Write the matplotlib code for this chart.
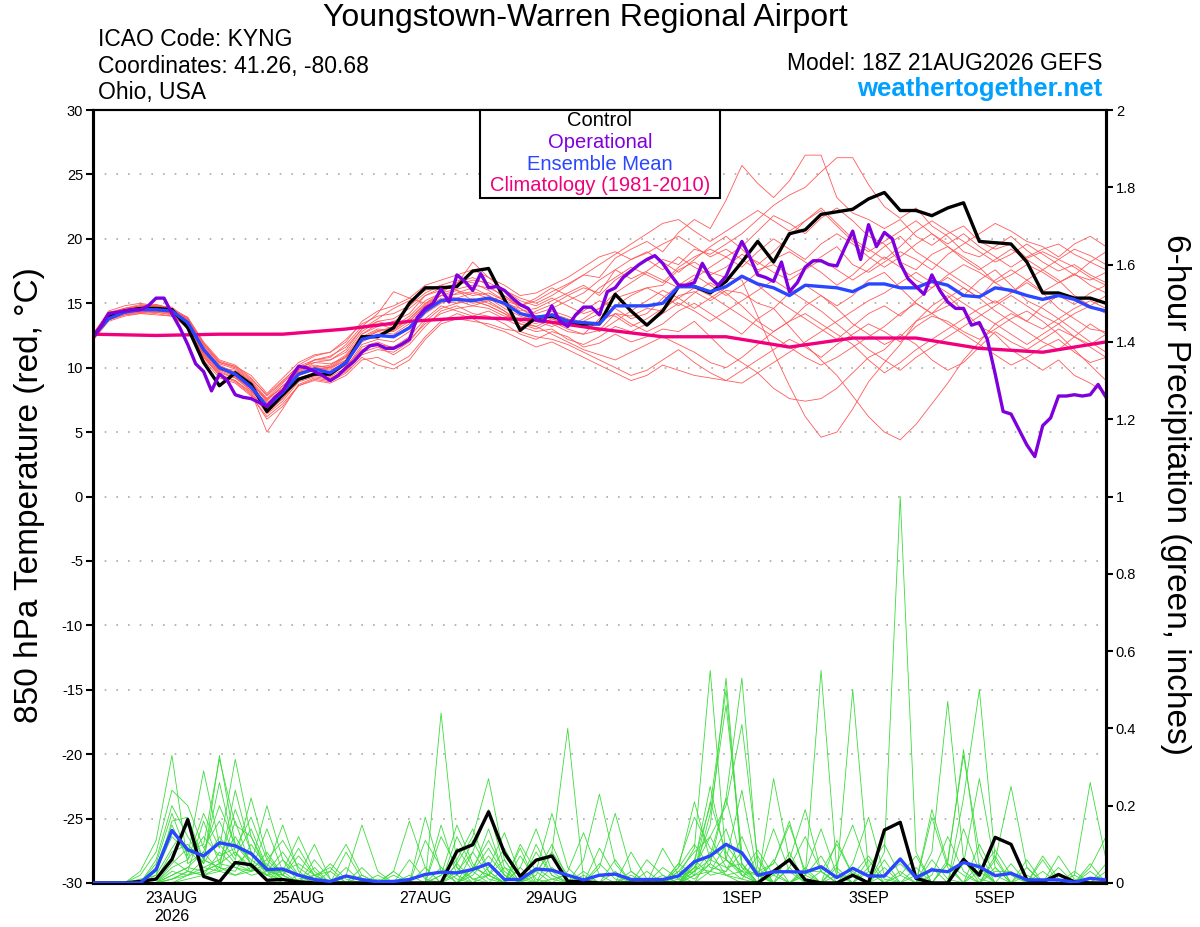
import matplotlib
matplotlib.use('Agg')
import matplotlib.pyplot as plt
import numpy as np

plt.rcParams['font.family'] = ['Liberation Sans', 'DejaVu Sans']
plt.rcParams['axes.unicode_minus'] = False

# --- data (6-hourly from 18Z 21AUG2026, operational 3-hourly, climatology daily) ---
control_temp = [12.4, 13.9, 14.4, 14.6, 14.6, 14.5, 13.1, 10.4, 8.6, 9.6,
                8.7, 6.6, 7.9, 9.1, 9.5, 9.5, 10.4, 12.4, 12.4, 13.1,
                15.0, 16.2, 16.2, 16.3, 17.5, 17.7, 15.3, 12.9, 13.9, 14.0,
                13.6, 13.4, 13.4, 15.7, 14.4, 13.3, 14.4, 16.3, 16.3, 15.8,
                16.7, 18.2, 19.8, 18.2, 20.4, 20.7, 21.9, 22.1, 22.3, 23.1,
                23.6, 22.2, 22.2, 21.8, 22.4, 22.8, 19.8, 19.7, 19.6, 18.2,
                15.8, 15.8, 15.4, 15.4, 15.0]

mean_temp = [12.4, 13.8, 14.3, 14.5, 14.5, 14.4, 13.5, 11.4, 10.0, 9.5,
             8.5, 7.0, 8.1, 9.5, 9.9, 9.6, 10.4, 12.2, 12.5, 12.4,
             13.1, 14.4, 15.2, 15.3, 15.2, 15.4, 15.0, 14.2, 13.9, 14.1,
             13.6, 13.5, 13.4, 14.8, 14.8, 14.8, 15.0, 16.3, 16.3, 15.9,
             16.3, 17.1, 16.5, 16.2, 15.6, 16.4, 16.3, 16.2, 15.9, 16.5,
             16.5, 16.2, 16.2, 16.7, 16.4, 15.6, 15.5, 16.2, 16.0, 15.6,
             15.3, 15.6, 15.3, 14.7, 14.4]

oper_temp = [12.3, 13.2, 14.2, 14.3, 14.4, 14.5, 14.5, 14.8, 15.4, 15.4,
             14.2, 13.1, 11.8, 10.3, 9.7, 8.2, 9.5, 9.0, 7.9, 7.7,
             7.6, 7.3, 7.0, 7.7, 8.2, 9.2, 10.1, 10.0, 9.7, 9.4,
             9.0, 9.4, 10.0, 10.5, 11.2, 11.7, 11.8, 11.5, 11.5, 11.8,
             12.2, 13.9, 14.6, 15.0, 16.1, 15.1, 17.2, 16.7, 16.0, 17.3,
             16.2, 16.3, 16.0, 15.4, 14.9, 14.6, 13.7, 13.6, 14.8, 13.6,
             13.2, 14.1, 14.7, 14.7, 14.1, 15.9, 16.2, 17.0, 17.5, 18.0,
             18.4, 18.7, 18.1, 17.2, 16.4, 16.4, 16.6, 18.1, 17.0, 16.4,
             17.1, 18.5, 19.8, 18.6, 17.2, 17.0, 16.7, 18.2, 15.9, 16.6,
             17.8, 18.3, 18.3, 18.0, 17.9, 19.3, 20.6, 18.4, 21.1, 19.4,
             20.5, 20.0, 18.1, 16.9, 16.3, 15.7, 17.2, 16.0, 15.1, 14.6,
             14.6, 13.3, 13.5, 12.2, 9.5, 6.6, 6.4, 5.2, 4.0, 3.1,
             5.5, 6.1, 7.8, 7.8, 7.9, 7.8, 7.9, 8.7, 7.7]

clim_temp = [12.6, 12.5, 12.6, 12.6, 13.0, 13.6, 13.9, 13.7, 13.0,
             12.4, 12.4, 11.6, 12.3, 12.3, 11.5, 11.2, 12.0]

control_precip = [0, 0, 0, .004, .01, .061, .164, .017, .003, .053,
                  .047, .007, .009, .003, 0, 0, 0, 0, 0, 0,
                  0, 0, 0, .082, .099, .184, .078, .017, .059, .07,
                  .004, .003, 0, 0, 0, 0, 0, 0, 0, 0,
                  0, 0, 0, .03, .06, .008, 0, 0, .02, 0,
                  .137, .157, .012, 0, 0, .061, .02, .118, .1, .008,
                  .003, .022, .003, 0, 0]

mean_precip = [0, 0, 0, 0, .035, .136, .086, .07, .104, .096,
               .076, .035, .036, .02, .009, .004, .018, .009, .003, .004,
               .009, .022, .028, .026, .035, .05, .009, .009, .036, .033,
               .02, .008, .02, .023, .009, .009, .009, .018, .055, .07,
               .10, .078, .02, .029, .029, .028, .042, .014, .038, .018,
               .018, .062, .014, .034, .029, .053, .042, .019, .025, .008,
               .008, .008, .002, .012, .008]

# ensemble members, 850 hPa temperature
t_m01 = [12.3, 14.2, 14.6, 14.8, 14.9, 14.6, 13.2, 11.0, 9.6, 9.2, 8.4, 6.8, 8.0,
         9.8, 10.6, 10.9, 11.6, 13.0, 13.6, 13.2, 14.0, 15.2, 15.8, 16.1, 16.4, 16.2,
         15.6, 14.8, 15.2, 15.9, 16.5, 17.2, 17.0, 18.5, 19.2, 19.8, 19.0, 20.5, 21.5,
         20.8, 23.0, 25.7, 24.3, 23.2, 24.5, 26.5, 26.5, 23.2, 22.0, 21.5, 20.8, 21.5,
         20.2, 19.5, 20.4, 21.0, 19.8, 19.2, 19.6, 18.5, 19.0, 18.4, 19.2, 18.7, 18.0]
t_m02 = [12.5, 14.0, 14.4, 14.5, 14.6, 14.5, 13.8, 11.8, 10.3, 9.9, 8.9, 7.4, 8.6,
         9.4, 10.0, 10.2, 11.0, 12.6, 13.4, 13.0, 13.8, 14.9, 15.6, 16.0, 15.2, 14.8,
         14.2, 13.6, 14.4, 14.9, 15.6, 16.2, 15.8, 17.6, 16.9, 17.5, 18.4, 18.0, 19.2,
         18.8, 19.6, 20.4, 21.5, 22.6, 23.4, 24.0, 25.2, 26.3, 26.3, 24.2, 22.5, 21.6,
         22.4, 21.0, 20.2, 19.0, 18.6, 19.4, 20.2, 19.1, 18.2, 17.5, 18.0, 17.2, 16.6]
t_m03 = [12.2, 13.9, 14.3, 14.4, 14.3, 14.2, 13.4, 11.2, 9.8, 9.7, 8.6, 7.2, 8.4,
         9.6, 10.4, 10.3, 10.8, 12.3, 12.9, 12.8, 13.6, 14.8, 15.6, 15.7, 15.9, 15.6,
         15.0, 14.6, 14.0, 13.8, 13.2, 13.8, 14.6, 15.4, 15.8, 16.2, 16.4, 17.6, 18.2,
         17.4, 17.0, 16.8, 14.0, 11.2, 8.6, 6.2, 4.6, 5.0, 6.8, 8.9, 10.4, 11.8,
         13.6, 14.2, 15.4, 16.2, 15.4, 16.8, 17.6, 16.8, 15.9, 16.6, 17.3, 16.4, 15.8]
t_m04 = [12.6, 14.3, 14.5, 14.6, 14.4, 14.3, 13.6, 11.5, 10.1, 9.3, 8.2, 6.9, 7.8,
         9.2, 9.6, 9.3, 10.0, 11.8, 12.2, 12.0, 12.8, 14.2, 15.0, 15.4, 15.0, 15.2,
         14.4, 13.4, 13.0, 13.6, 13.0, 12.6, 12.9, 14.2, 14.0, 14.6, 14.4, 15.6, 15.9,
         15.2, 16.0, 15.8, 15.0, 14.6, 13.2, 11.8, 10.6, 9.4, 7.8, 6.2, 5.0, 4.4,
         5.6, 7.2, 8.8, 10.6, 12.0, 13.4, 14.2, 13.6, 14.8, 15.6, 14.9, 15.8, 16.4]
t_m05 = [12.4, 13.7, 14.1, 14.3, 14.2, 14.0, 13.2, 10.8, 9.4, 9.0, 8.0, 6.5, 7.6,
         9.0, 9.4, 9.2, 9.8, 11.2, 11.6, 11.0, 11.8, 13.2, 14.4, 14.8, 14.2, 14.0,
         13.4, 12.6, 12.2, 12.8, 12.4, 11.6, 11.9, 12.6, 12.0, 12.4, 13.0, 12.8, 13.6,
         12.4, 11.2, 10.4, 9.6, 8.4, 7.6, 7.4, 7.6, 8.4, 9.6, 10.8, 11.4, 12.6,
         11.8, 10.6, 9.8, 10.4, 11.6, 12.8, 12.0, 11.4, 12.2, 13.0, 12.4, 11.8, 12.6]
t_m06 = [12.3, 14.1, 14.5, 14.6, 14.7, 14.5, 13.0, 10.6, 9.2, 8.8, 7.8, 6.2, 7.2,
         8.6, 9.0, 8.8, 9.4, 10.6, 10.8, 10.2, 10.9, 12.4, 13.6, 14.2, 13.8, 13.2,
         12.8, 12.2, 11.6, 12.0, 11.4, 10.8, 10.2, 9.6, 9.0, 9.4, 10.2, 9.8, 9.4,
         9.2, 9.0, 9.8, 10.6, 11.4, 12.2, 11.6, 10.8, 11.8, 12.6, 13.4, 12.8, 12.0,
         13.2, 14.0, 13.6, 12.8, 12.2, 13.0, 13.8, 14.4, 13.6, 12.6, 11.4, 10.2, 9.0]
t_m07 = [12.5, 14.4, 14.8, 15.0, 14.8, 14.6, 13.9, 12.0, 10.6, 10.2, 9.2, 7.8, 8.9,
         10.2, 10.9, 11.2, 12.0, 13.6, 14.4, 14.8, 15.4, 16.4, 16.8, 17.2, 17.6, 17.0,
         16.4, 15.6, 15.8, 16.4, 17.0, 17.8, 18.6, 19.0, 18.4, 18.9, 19.6, 20.2, 19.4,
         18.6, 19.2, 18.4, 17.6, 18.0, 17.2, 17.8, 18.6, 19.4, 18.0, 17.4, 18.2, 19.0,
         18.4, 17.6, 18.8, 19.6, 20.4, 21.2, 20.6, 19.8, 19.4, 18.6, 19.6, 20.2, 19.4]
t_m08 = [12.1, 13.6, 14.0, 14.2, 14.3, 14.1, 13.1, 10.9, 9.5, 9.0, 8.1, 5.0, 6.8,
         8.7, 9.2, 9.0, 9.9, 11.6, 12.0, 11.5, 12.2, 13.4, 14.2, 14.6, 14.8, 14.6,
         14.0, 13.8, 13.4, 14.2, 13.8, 13.2, 13.6, 14.2, 13.4, 12.8, 13.4, 14.4, 15.0,
         14.2, 13.4, 12.6, 13.8, 14.6, 15.8, 16.4, 15.6, 14.8, 15.6, 16.8, 17.4, 16.2,
         15.0, 14.2, 14.8, 15.6, 16.8, 17.6, 16.4, 15.2, 14.6, 13.8, 12.9, 12.0, 11.2]
t_m09 = [12.6, 14.0, 14.2, 14.4, 14.5, 14.4, 13.5, 11.6, 10.2, 9.6, 8.8, 7.6, 8.4,
         9.8, 10.2, 10.0, 10.6, 12.6, 13.2, 13.6, 14.2, 15.6, 16.2, 16.5, 18.2, 17.0,
         16.0, 15.2, 14.8, 15.4, 14.8, 14.2, 14.6, 15.8, 16.6, 17.4, 16.8, 16.2, 16.9,
         17.8, 18.6, 19.4, 20.6, 21.8, 21.2, 20.4, 21.6, 22.4, 21.4, 20.2, 19.6, 18.2,
         17.6, 18.8, 19.4, 18.6, 17.8, 16.6, 15.8, 16.8, 17.6, 16.8, 15.6, 14.8, 15.6]
t_m10 = [12.2, 13.8, 14.2, 14.3, 14.4, 14.2, 13.3, 11.2, 9.9, 9.5, 8.6, 7.0, 8.2,
         9.6, 10.0, 9.8, 10.4, 12.0, 12.6, 12.4, 13.2, 14.6, 15.4, 15.2, 14.8, 15.2,
         15.6, 14.6, 13.8, 13.4, 12.8, 12.6, 13.8, 14.8, 15.6, 16.2, 15.6, 14.8, 15.8,
         16.6, 15.8, 14.8, 13.6, 12.8, 13.6, 14.8, 15.6, 14.6, 13.4, 12.6, 11.8, 12.4,
         13.6, 14.8, 15.6, 14.4, 13.2, 12.6, 11.4, 10.6, 9.8, 10.6, 9.4, 8.8, 8.0]
t_m11 = [12.4, 14.2, 14.6, 14.7, 14.6, 14.4, 13.7, 11.7, 10.4, 10.0, 9.0, 7.6, 8.8,
         10.0, 10.4, 10.6, 11.4, 13.0, 13.8, 14.6, 15.2, 16.0, 16.4, 16.0, 15.6, 15.8,
         15.2, 14.4, 14.6, 15.2, 15.8, 16.4, 15.6, 16.8, 17.6, 18.4, 17.6, 18.6, 17.8,
         17.2, 17.8, 18.8, 18.2, 17.4, 16.8, 17.6, 18.4, 17.6, 16.8, 17.6, 18.6, 17.8,
         16.8, 16.2, 17.2, 18.0, 17.4, 16.6, 17.2, 18.0, 17.4, 16.6, 17.2, 16.8, 17.4]
t_m12 = [12.3, 13.9, 14.4, 14.6, 14.5, 14.3, 13.4, 11.3, 10.0, 9.8, 8.9, 7.3, 8.0,
         9.4, 9.8, 10.1, 10.9, 12.4, 13.0, 12.9, 13.8, 15.0, 15.6, 15.4, 15.8, 15.4,
         14.6, 14.0, 13.6, 13.2, 13.6, 14.4, 15.2, 14.6, 13.8, 14.2, 15.4, 16.4, 17.2,
         16.4, 15.6, 16.4, 17.4, 18.4, 19.0, 18.2, 17.4, 16.4, 17.2, 18.4, 19.4, 20.2,
         19.0, 18.2, 17.4, 16.6, 15.8, 15.0, 15.8, 16.6, 15.8, 14.6, 13.8, 13.0, 12.8]
t_m13 = [12.5, 14.1, 14.3, 14.5, 14.6, 14.4, 13.6, 11.4, 10.0, 9.4, 8.3, 7.1, 8.3,
         9.9, 10.6, 10.8, 11.8, 13.2, 14.2, 15.9, 15.4, 15.0, 15.8, 16.6, 17.0, 16.4,
         15.4, 14.8, 14.2, 14.6, 15.2, 15.8, 16.8, 17.6, 18.4, 19.0, 18.2, 17.4, 18.4,
         19.4, 20.2, 19.2, 18.0, 19.0, 20.2, 21.4, 22.4, 21.2, 20.0, 19.2, 18.4, 19.4,
         20.6, 21.4, 20.6, 19.8, 19.0, 18.2, 18.8, 19.6, 18.8, 18.0, 17.2, 18.2, 19.0]
t_m14 = [12.2, 14.0, 14.4, 14.4, 14.4, 14.3, 13.5, 11.1, 9.8, 9.3, 8.5, 6.8, 7.9,
         9.1, 9.5, 9.4, 10.2, 11.4, 11.8, 11.6, 12.4, 13.8, 14.8, 14.4, 14.0, 14.4,
         13.8, 13.2, 12.8, 13.0, 12.2, 11.8, 12.4, 13.2, 12.8, 13.4, 14.2, 15.0, 14.4,
         13.6, 14.4, 15.2, 16.0, 16.8, 16.0, 15.2, 14.4, 13.4, 12.4, 11.4, 10.6, 9.8,
         10.8, 11.6, 12.4, 13.2, 14.0, 14.8, 15.6, 14.8, 14.0, 13.4, 14.2, 14.8, 14.2]
t_m15 = [12.6, 14.3, 14.6, 14.8, 14.7, 14.6, 13.8, 11.9, 10.4, 10.1, 9.4, 8.0, 9.2,
         10.4, 11.0, 11.2, 12.2, 13.4, 14.0, 14.2, 14.8, 15.8, 16.4, 16.8, 16.6, 16.0,
         15.2, 14.8, 15.4, 16.2, 15.6, 15.0, 16.2, 17.0, 17.8, 17.2, 16.6, 17.8, 18.6,
         19.2, 18.6, 17.8, 19.0, 20.0, 19.2, 18.4, 19.6, 20.4, 19.6, 18.6, 17.8, 18.6,
         19.6, 20.4, 19.4, 18.4, 17.6, 18.4, 19.2, 18.4, 17.6, 18.4, 17.8, 17.0, 16.4]
t_m16 = [12.4, 13.8, 14.3, 14.6, 14.8, 14.7, 13.7, 11.6, 10.1, 9.6, 8.7, 7.5, 8.6,
         9.7, 10.1, 10.0, 10.8, 12.2, 12.8, 13.2, 13.6, 14.8, 15.2, 15.8, 16.2, 15.6,
         14.8, 14.2, 13.6, 14.4, 14.0, 13.4, 12.8, 13.6, 14.4, 15.2, 16.0, 15.4, 14.6,
         15.4, 16.2, 17.0, 16.4, 15.4, 14.6, 13.8, 13.0, 12.2, 13.2, 14.2, 14.8, 14.0,
         15.2, 16.2, 17.0, 16.2, 15.4, 14.4, 13.6, 12.8, 12.0, 11.4, 12.4, 13.4, 12.6]
t_m17 = [12.3, 14.0, 14.5, 14.7, 14.9, 14.6, 13.6, 11.4, 9.9, 9.4, 8.4, 6.6, 7.6,
         9.4, 10.0, 9.9, 10.6, 12.2, 12.8, 12.6, 13.4, 14.6, 15.2, 15.0, 15.4, 15.0,
         14.4, 13.6, 13.2, 13.8, 13.4, 13.6, 14.2, 14.0, 13.2, 13.8, 14.6, 15.4, 16.2,
         15.6, 14.8, 14.0, 13.2, 12.4, 11.6, 10.8, 10.2, 10.8, 11.6, 12.4, 13.2, 14.2,
         15.0, 14.2, 13.4, 12.6, 11.8, 11.0, 10.2, 10.8, 11.6, 12.2, 11.2, 10.4, 10.8]
t_m18 = [12.5, 14.2, 14.5, 14.5, 14.4, 14.3, 13.2, 11.0, 9.7, 9.2, 8.2, 6.4, 7.4,
         8.9, 9.3, 9.1, 9.7, 11.0, 11.4, 11.2, 12.0, 13.6, 14.6, 15.0, 15.2, 14.8,
         14.2, 13.4, 13.2, 12.6, 12.0, 11.4, 11.0, 10.6, 11.2, 11.8, 12.4, 11.8, 11.2,
         10.4, 10.0, 10.8, 11.8, 12.8, 13.6, 14.2, 13.4, 12.6, 11.8, 10.6, 9.6, 10.4,
         11.4, 12.2, 13.0, 13.8, 14.6, 15.2, 14.4, 13.6, 13.0, 13.8, 14.6, 15.2, 14.6]
t_m19 = [12.4, 14.1, 14.6, 14.9, 14.8, 14.5, 13.9, 11.9, 10.5, 10.1, 9.1, 7.9, 9.0,
         10.1, 10.6, 10.6, 11.2, 12.8, 13.6, 13.8, 14.6, 15.6, 16.0, 16.4, 16.8, 16.6,
         16.0, 15.4, 15.0, 15.6, 16.4, 17.2, 18.0, 18.8, 19.6, 20.4, 21.2, 21.5, 20.6,
         19.8, 20.6, 21.4, 22.2, 21.4, 20.6, 21.4, 22.2, 21.0, 19.8, 19.0, 19.8, 20.6,
         21.4, 20.4, 19.6, 20.4, 19.4, 18.6, 17.8, 18.6, 19.2, 19.6, 18.8, 18.2, 17.6]
t_m20 = [12.2, 13.7, 14.1, 14.2, 14.1, 14.0, 13.1, 10.8, 9.4, 8.9, 7.9, 6.0, 7.0,
         8.6, 9.1, 8.9, 9.6, 10.8, 10.2, 9.9, 10.6, 12.2, 13.4, 13.8, 13.6, 13.4,
         13.0, 12.8, 12.4, 12.2, 11.8, 11.2, 10.6, 10.0, 9.4, 9.8, 10.6, 11.4, 10.4,
         9.6, 9.0, 8.8, 9.6, 10.4, 11.2, 12.0, 12.8, 13.6, 14.4, 15.2, 15.8, 16.6,
         17.4, 16.6, 15.8, 15.0, 14.2, 13.4, 12.6, 11.8, 12.6, 13.4, 12.4, 11.6, 10.8]

# ensemble members, 6-hour precipitation (inches)
p_m01 = [0, 0, 0, .03, .11, .33, .05, .08, .03, .16, .04, .02, .06,
         0, 0, 0, 0, 0, 0, 0, .06, .01, 0, 0, .04, .02,
         0, 0, .08, .02, 0, 0, 0, 0, .08, .01, 0, 0, .06,
         .02, .03, .12, .02, 0, 0, .02, .55, .03, 0, 0, 0, 0,
         0, .06, .01, 0, 0, 0, 0, .04, 0, 0, 0, 0, 0]
p_m02 = [0, 0, 0, .02, .08, .24, .20, .09, .16, .07, .14, .04, .01,
         0, 0, .03, 0, 0, 0, 0, 0, 0, .04, .01, 0, 0,
         0, .04, 0, 0, 0, 0, 0, 0, 0, .03, 0, .02, .09,
         .55, .06, .02, 0, .06, 0, 0, 0, 0, .03, 0, 0, 0,
         0, 0, .05, .345, .04, 0, 0, 0, .03, 0, 0, 0, 0]
p_m03 = [0, 0, 0, 0, .06, .20, .12, .05, .33, .10, .06, .03, .02,
         .09, .02, 0, 0, 0, 0, 0, 0, .17, .03, 0, 0, .02,
         .09, .01, 0, 0, 0, 0, .05, .01, 0, 0, 0, 0, .03,
         .08, .02, .01, .07, 0, 0, 0, 0, .04, 0, 0, 0, 0,
         0, .08, .47, .06, 0, 0, 0, 0, 0, .04, 0, 0, 0]
p_m04 = [0, 0, 0, 0, .05, .18, .07, .29, .10, .05, .03, .14, .03,
         0, 0, 0, .08, .01, 0, 0, 0, 0, 0, .02, .11, .03,
         0, 0, .02, .10, .01, 0, 0, 0, 0, 0, .02, 0, .04,
         .15, .53, .05, 0, 0, .08, 0, 0, 0, 0, 0, .06, 0,
         0, 0, 0, 0, .10, .02, 0, 0, 0, 0, 0, .05, 0]
p_m05 = [0, 0, 0, .01, .02, .16, .17, .06, .26, .08, .03, .05, .01,
         0, 0, 0, 0, 0, .02, 0, 0, 0, 0, 0, .03, .14,
         .02, 0, 0, .01, .02, 0, 0, 0, 0, 0, 0, .02, .03,
         .06, .14, .02, 0, 0, 0, .04, 0, 0, 0, 0, .08, 1.0,
         .08, 0, 0, 0, 0, .07, 0, 0, 0, 0, 0, 0, .03]
p_m06 = [0, 0, 0, 0, .04, .15, .06, .18, .09, .32, .12, .04, .15,
         .03, 0, 0, 0, 0, 0, 0, 0, 0, .15, .02, 0, 0,
         .04, 0, 0, 0, 0, .02, 0, 0, 0, 0, 0, .05, .17,
         .09, .06, .24, .02, 0, 0, 0, .03, 0, 0, 0, 0, 0,
         .04, 0, 0, 0, 0, 0, .05, 0, 0, 0, 0, 0, 0]
p_m07 = [0, 0, 0, 0, .03, .12, .08, .10, .32, .15, .12, .03, 0,
         .02, .10, .01, 0, 0, 0, 0, 0, 0, .02, .15, .05, .01,
         0, .09, 0, 0, 0, 0, 0, .06, 0, 0, 0, 0, .04,
         .12, .04, .01, 0, .27, .06, 0, 0, 0, 0, .06, 0, 0,
         0, 0, .05, 0, 0, 0, 0, 0, .06, 0, 0, 0, 0]
p_m08 = [0, 0, 0, 0, .02, .09, .15, .06, .04, .24, .08, .02, 0,
         0, .01, .05, .01, 0, 0, 0, 0, 0, 0, .09, .03, 0,
         0, 0, .10, .02, 0, 0, 0, 0, .02, 0, 0, 0, .06,
         .20, .50, .04, .02, .05, .16, .02, 0, 0, 0, .03, 0, 0,
         0, 0, 0, .14, .03, 0, 0, 0, 0, 0, .02, 0, 0]
p_m09 = [0, 0, 0, 0, .01, .08, .10, .05, .12, .06, .22, .07, .02,
         0, 0, 0, 0, .04, 0, 0, 0, 0, 0, 0, .08, .02,
         0, 0, .03, .18, .04, 0, 0, 0, 0, 0, .09, .02, 0,
         .07, .22, .05, 0, 0, .04, 0, 0, 0, 0, 0, .04, 0,
         0, 0, 0, .22, .50, .06, 0, 0, 0, 0, 0, .03, 0]
p_m10 = [0, 0, 0, 0, .01, .06, .03, .16, .05, .19, .08, .03, .08,
         .02, 0, 0, 0, 0, 0, .03, 0, 0, 0, .05, .12, .27,
         .06, 0, 0, .04, .01, 0, 0, 0, 0, 0, 0, .05, .02,
         .03, .06, .03, 0, 0, .04, .12, .03, 0, 0, 0, 0, .03,
         0, 0, 0, 0, .03, .085, .02, 0, 0, 0, 0, .04, .12]
p_m11 = [0, 0, 0, 0, 0, .05, .09, .04, .06, .12, .05, .02, .03,
         .12, .03, 0, 0, 0, 0, 0, .02, 0, 0, 0, .04, .11,
         .03, 0, 0, .08, .40, .01, 0, 0, 0, 0, 0, .03, .08,
         .12, .20, .41, .06, 0, 0, .02, .07, 0, 0, 0, 0, 0,
         .02, 0, 0, 0, 0, .06, .25, .04, 0, 0, 0, 0, 0]
p_m12 = [0, 0, 0, 0, 0, .04, .06, .12, .07, .09, .17, .06, .02,
         0, .06, .01, 0, 0, 0, 0, 0, .11, .04, 0, .02, .07,
         .02, 0, 0, 0, 0, .03, 0, 0, 0, 0, 0, .04, .21,
         .06, .04, .05, 0, 0, 0, .03, .03, .10, .02, 0, 0, 0,
         0, .17, .04, 0, 0, 0, 0, .06, 0, 0, 0, 0, 0]
p_m13 = [0, 0, 0, 0, 0, .03, .02, .06, .04, .03, .10, .04, 0,
         .01, .02, .04, 0, 0, 0, 0, 0, 0, .12, .04, .01, .02,
         .06, 0, 0, 0, 0, .06, .23, .05, 0, 0, 0, .01, .04,
         .03, .02, .03, .085, .02, 0, 0, 0, .05, .15, .03, 0, 0,
         0, .04, 0, 0, 0, 0, 0, 0, .07, .01, 0, 0, 0]
p_m14 = [0, 0, 0, 0, 0, .02, .04, .08, .20, .10, .05, .20, .06,
         .02, 0, 0, .04, 0, 0, 0, 0, 0, 0, .12, .04, .02,
         0, .10, .03, 0, 0, 0, 0, .03, 0, 0, 0, 0, .05,
         .25, .06, .03, .02, .14, .03, 0, 0, 0, .05, .17, .02, 0,
         0, 0, .06, .33, .08, 0, 0, 0, 0, .07, .01, 0, 0]
p_m15 = [0, 0, 0, 0, 0, .01, .03, .02, .08, .04, .03, .08, .02,
         0, 0, 0, .02, .15, .03, 0, 0, 0, 0, .05, .01, 0,
         0, .04, .14, .03, 0, 0, 0, 0, .03, 0, 0, 0, .02,
         .05, .02, 0, 0, .03, 0, 0, 0, 0, .02, .07, .01, 0,
         0, 0, 0, .06, .01, 0, 0, 0, 0, .02, 0, 0, 0]
p_m16 = [0, 0, 0, 0, 0, .02, .04, .03, .05, .08, .04, .06, .11,
         .04, .01, 0, 0, 0, .01, 0, 0, 0, .02, .06, .14, .03,
         0, 0, .04, .01, 0, 0, 0, 0, 0, .06, .02, 0, .02,
         .18, .46, .08, .03, .05, .15, .03, 0, 0, 0, .04, .10, .02,
         0, 0, 0, .05, .27, .04, 0, 0, 0, 0, .03, 0, 0]
p_m17 = [0, 0, 0, 0, 0, .01, .02, .04, .03, .05, .08, .03, .02,
         .07, .02, 0, 0, 0, 0, .02, 0, 0, 0, .03, .08, .19,
         .04, .02, .03, .08, .02, 0, 0, 0, 0, 0, .04, .01, 0,
         .03, .10, .04, 0, .02, .06, .19, .03, 0, 0, 0, .02, .05,
         .01, 0, 0, 0, .05, 0, 0, 0, 0, 0, .02, .26, .06]
p_m18 = [0, 0, 0, 0, 0, .01, .03, .02, .04, .02, .03, .04, .01,
         0, .04, 0, 0, 0, 0, .03, .16, .04, 0, 0, .03, .09,
         .02, 0, 0, 0, .03, .13, .02, 0, 0, 0, 0, .03, .01,
         .05, .22, .53, .04, 0, 0, .03, .14, .02, 0, 0, 0, .02,
         .07, 0, 0, 0, 0, .04, 0, 0, 0, 0, 0, 0, .05]
p_m19 = [0, 0, 0, 0, 0, 0, .02, .03, .05, .04, .02, .03, .03,
         .05, .02, .03, .10, .02, 0, 0, 0, .04, 0, 0, 0, .04,
         .13, .02, 0, 0, 0, 0, .09, .02, 0, 0, 0, .04, .10,
         .04, .03, .08, .02, 0, 0, 0, 0, .11, .02, 0, 0, 0,
         0, .19, .05, .02, 0, .03, .03, 0, 0, 0, 0, 0, 0]
p_m20 = [0, 0, 0, 0, 0, 0, .01, .02, .03, .02, .04, .02, .01,
         0, .02, 0, 0, .02, 0, 0, 0, 0, .44, .04, 0, 0,
         0, .07, .01, 0, 0, 0, .04, .18, .03, 0, 0, 0, .03,
         .21, .08, .02, .03, 0, 0, 0, 0, .02, .50, .03, 0, 0,
         0, .02, .12, .03, 0, 0, 0, .02, 0, 0, 0, 0, 0]

tick_hours = [30, 78, 126, 174, 246, 294, 342]
tick_labels = ['23AUG\n2026', '25AUG', '27AUG', '29AUG', '1SEP', '3SEP', '5SEP']
temp_ticks = [-30, -25, -20, -15, -10, -5, 0, 5, 10, 15, 20, 25, 30]
precip_ticks = [0, 0.2, 0.4, 0.6, 0.8, 1, 1.2, 1.4, 1.6, 1.8, 2]
precip_labels = ['0', '0.2', '0.4', '0.6', '0.8', '1', '1.2', '1.4', '1.6', '1.8', '2']

temp_members = [t_m01, t_m02, t_m03, t_m04, t_m05, t_m06, t_m07, t_m08, t_m09, t_m10,
                t_m11, t_m12, t_m13, t_m14, t_m15, t_m16, t_m17, t_m18, t_m19, t_m20]
precip_members = [p_m01, p_m02, p_m03, p_m04, p_m05, p_m06, p_m07, p_m08, p_m09, p_m10,
                  p_m11, p_m12, p_m13, p_m14, p_m15, p_m16, p_m17, p_m18, p_m19, p_m20]

# forecast hours
h6 = np.arange(0, 385, 6)
h3 = np.arange(0, 385, 3)
h24 = np.arange(0, 385, 24)

RED = '#ff5a5a'
GREEN = '#3ddc3d'
PURPLE = '#7f00dc'
BLUE = '#2a46ff'
PINK = '#f0007c'

fig = plt.figure(figsize=(12, 9.27), dpi=100)
ax = fig.add_axes([0.0773, 0.0475, 0.8444, 0.8338])
ax2 = ax.twinx()

# temperature
for m in temp_members:
    ax.plot(h6, m, color=RED, lw=0.6, zorder=2)
ax.plot(h24, clim_temp, color=PINK, lw=2.4, zorder=3)
ax.plot(h6, control_temp, color='black', lw=2.4, zorder=4)
ax.plot(h6, mean_temp, color=BLUE, lw=2.4, zorder=5)
ax.plot(h3, oper_temp, color=PURPLE, lw=2.4, zorder=6)

# precipitation
for m in precip_members:
    ax2.plot(h6, m, color=GREEN, lw=0.6, zorder=2)
ax2.plot(h6, control_precip, color='black', lw=2.4, zorder=4)
ax2.plot(h6, mean_precip, color=BLUE, lw=2.4, zorder=5)

ax.set_xlim(0, 384)
ax.set_ylim(-30, 30)
ax2.set_ylim(0, 2)

ax.set_yticks(temp_ticks)
ax.set_yticklabels([str(v) for v in temp_ticks])
ax2.set_yticks(precip_ticks)
ax2.set_yticklabels(precip_labels)
ax.set_xticks(tick_hours)
ax.set_xticklabels(tick_labels)

for v in temp_ticks[1:-1]:
    ax.axhline(v, color='#aaaaaa', lw=1.2, linestyle=(0, (1, 6)), zorder=1)

ax.tick_params(axis='y', direction='out', length=5, width=1.5, labelsize=10.5, pad=2)
ax2.tick_params(axis='y', direction='out', length=5, width=1.5, labelsize=10.5, pad=2)
ax.tick_params(axis='x', length=0, labelsize=11.5, pad=6)

for s in ['left', 'right', 'bottom']:
    ax.spines[s].set_linewidth(2.2)
    ax2.spines[s].set_linewidth(2.2)
ax.spines['top'].set_linewidth(1.5)
ax2.spines['top'].set_linewidth(1.5)

# labels and titles
fig.text(585 / 1200, 1 - 18 / 927, 'Youngstown-Warren Regional Airport', ha='center', va='center', fontsize=23)
fig.text(98 / 1200, 1 - 40 / 927, 'ICAO Code: KYNG', ha='left', va='center', fontsize=16.5)
fig.text(98 / 1200, 1 - 66 / 927, 'Coordinates: 41.26, -80.68', ha='left', va='center', fontsize=16.5)
fig.text(98 / 1200, 1 - 92 / 927, 'Ohio, USA', ha='left', va='center', fontsize=16.5)
fig.text(1102 / 1200, 1 - 63 / 927, 'Model: 18Z 21AUG2026 GEFS', ha='right', va='center', fontsize=16.5)
fig.text(1102 / 1200, 1 - 89 / 927, 'weathertogether.net', ha='right', va='center',
         fontsize=18.5, fontweight='bold', color='#00a0ff')
fig.text(30 / 1200, 1 - 495 / 927, '850 hPa Temperature (red, \u00b0C)', rotation=90,
         ha='center', va='center', fontsize=24)
fig.text(1175 / 1200, 1 - 495 / 927, '6-hour Precipitation (green, inches)', rotation=270,
         ha='center', va='center', fontsize=24)

# legend box
legend_items = [('Control', 'black'), ('Operational', PURPLE),
                ('Ensemble Mean', BLUE), ('Climatology (1981-2010)', PINK)]
box = plt.Rectangle((480 / 1200, 1 - 198 / 927), 240 / 1200, 88 / 927, transform=fig.transFigure,
                    facecolor='white', edgecolor='black', lw=1.5, zorder=10)
fig.add_artist(box)
for i, (txt, col) in enumerate(legend_items):
    fig.text(600 / 1200, 1 - (121 + 21.5 * i) / 927, txt, color=col, ha='center', va='center',
             fontsize=14.5, zorder=11)

fig.savefig('out.png', dpi=100)
